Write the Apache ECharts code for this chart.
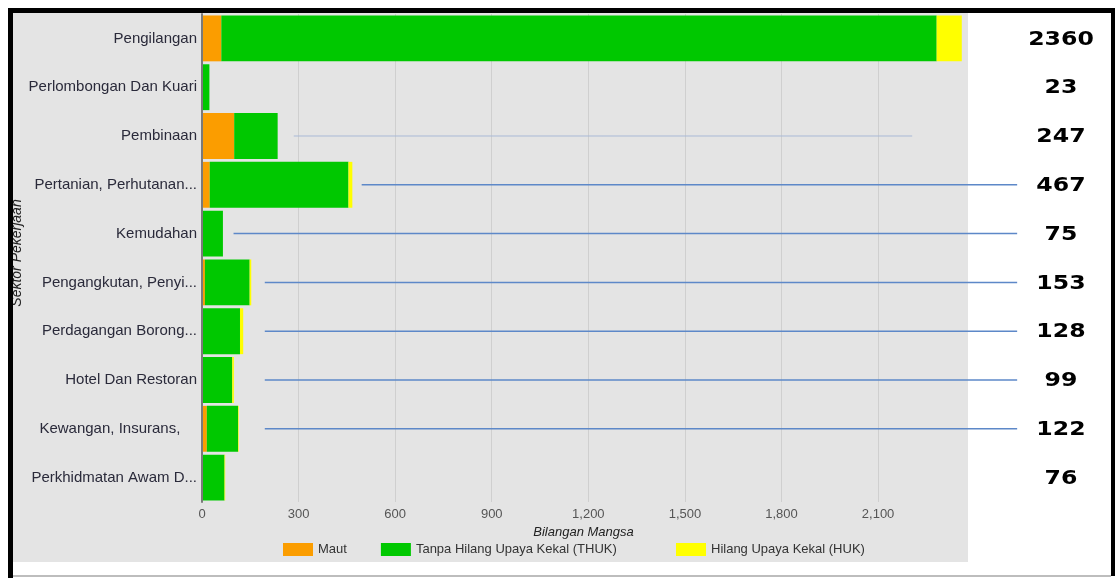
<!DOCTYPE html>
<html><head><meta charset="utf-8">
<script src="https://cdn.jsdelivr.net/npm/echarts@6/dist/echarts.min.js"></script>
<style>html,body{margin:0;padding:0;background:#fff}#c{width:1115px;height:578px}</style>
</head><body><div id="c"></div>
<script>
const categories = ['Pengilangan', 'Perlombongan Dan Kuari', 'Pembinaan', 'Pertanian, Perhutanan...', 'Kemudahan', 'Pengangkutan, Penyi...', 'Perdagangan Borong...', 'Hotel Dan Restoran', 'Kewangan, Insurans,\u00a0\u00a0\u00a0\u00a0', 'Perkhidmatan Awam D...'];
const seriesNames = ['Maut', 'Tanpa Hilang Upaya Kekal (THUK)', 'Hilang Upaya Kekal (HUK)'];
const maut = [60, 2, 100, 24, 1, 9, 2, 2, 15, 3];
const thuk = [2222, 21, 135, 431, 64, 139, 116, 92, 97, 67];
const huk = [78, 0, 0, 12, 0, 5, 10, 5, 2, 2];
const totalLabels = ['2360', '23', '247', '467', '75', '153', '128', '99', '122', '76'];
const leaderStart = [null, null, 285, 496, 98, 195, 195, 195, 195, null];
const leaderEnd = [null, null, 2206, 2532, 2532, 2532, 2532, 2532, 2532, null];
const xAxisName = 'Bilangan Mangsa';
const yAxisName = 'Sektor Pekerjaan';

const colors = ['#fb9d00', '#00c800', '#ffff00'];
const chart = echarts.init(document.getElementById('c'));
const leaderData = [];
categories.forEach((c, i) => { if (leaderStart[i] != null) leaderData.push([leaderStart[i], leaderEnd[i], i]); });
const font = '"Liberation Sans", Arial, sans-serif';
const legendText = { fontSize: 13, color: '#333', fontFamily: font };

chart.setOption({
  animation: false,
  backgroundColor: '#ffffff',
  color: colors,
  grid: { left: 202, top: 14, width: 763, height: 488, containLabel: false },
  xAxis: {
    type: 'value', min: 0, max: 2370, interval: 300,
    name: xAxisName, nameLocation: 'middle', nameGap: 23,
    nameTextStyle: { fontStyle: 'italic', fontSize: 13, color: '#222', fontFamily: font },
    axisLine: { show: false }, axisTick: { show: false },
    axisLabel: { showMaxLabel: false, margin: 6, fontSize: 13, color: '#555', fontFamily: font,
      formatter: v => v.toLocaleString('en-US') },
    splitLine: { show: true, showMaxLine: false, showMinLine: false, lineStyle: { color: '#cfcfcf', width: 1 } }
  },
  yAxis: {
    type: 'category', data: categories, inverse: true, z: 5,
    axisLine: { show: true, lineStyle: { color: '#7a7a7a', width: 2 } },
    axisTick: { show: false },
    axisLabel: { margin: 5, fontSize: 15, color: '#2a2a3a', fontFamily: font },
    splitLine: { show: false }
  },
  legend: [
    { data: seriesNames.slice(0, 2), left: 283, top: 543, padding: 0, itemWidth: 30, itemHeight: 13, itemGap: 34,
      icon: 'rect', textStyle: legendText },
    { data: seriesNames.slice(2), left: 676, top: 543, padding: 0, itemWidth: 30, itemHeight: 13,
      icon: 'rect', textStyle: legendText }
  ],
  graphic: [
    { type: 'rect', z: -10, shape: { x: 13, y: 13, width: 955, height: 549 }, style: { fill: '#e4e4e4' } },
    { type: 'text', z: 10, x: 17, y: 253, rotation: Math.PI / 2, style: { text: yAxisName, font: 'italic 14px ' + font, fill: '#222', align: 'center', verticalAlign: 'middle' } },
    { type: 'rect', z: 100, shape: { x: 8, y: 8, width: 1107, height: 5 }, style: { fill: '#000' } },
    { type: 'rect', z: 100, shape: { x: 8, y: 8, width: 5, height: 570 }, style: { fill: '#000' } },
    { type: 'rect', z: 100, shape: { x: 1111, y: 8, width: 4, height: 568 }, style: { fill: '#000' } },
    { type: 'rect', z: 100, shape: { x: 13, y: 575, width: 1098, height: 2 }, style: { fill: '#bdbdbd' } }
  ],
  series: [
    { name: seriesNames[0], type: 'bar', stack: 'a', data: maut, barCategoryGap: '6%' },
    { name: seriesNames[1], type: 'bar', stack: 'a', data: thuk, barCategoryGap: '6%' },
    { name: seriesNames[2], type: 'bar', stack: 'a', data: huk, barCategoryGap: '6%' },
    {
      type: 'custom', clip: false, z: 6, data: leaderData, encode: { x: [0, 1], y: 2 },
      renderItem: (params, api) => {
        const idx = api.value(2);
        const s = api.coord([api.value(0), idx]);
        const e = api.coord([api.value(1), idx]);
        const faint = idx === 2;
        return { type: 'line', shape: { x1: s[0], y1: s[1], x2: e[0], y2: e[1] },
          style: { stroke: faint ? '#a9b9d6' : '#5d88c8', lineWidth: faint ? 1 : 1.5 } };
      }
    },
    {
      type: 'custom', clip: false, z: 6, data: totalLabels.map((t, i) => [0, i]), encode: { x: 0, y: 1 },
      renderItem: (params, api) => {
        const idx = api.value(1);
        const p = api.coord([0, idx]);
        return { type: 'text', x: api.getWidth() - 54, y: p[1] + 1, scaleX: 1.18,
          style: { text: totalLabels[idx], x: 0, y: 0,
          align: 'center', verticalAlign: 'middle', font: 'bold 20px "DejaVu Sans", sans-serif', fill: '#000' } };
      }
    }
  ]
});
</script></body></html>
